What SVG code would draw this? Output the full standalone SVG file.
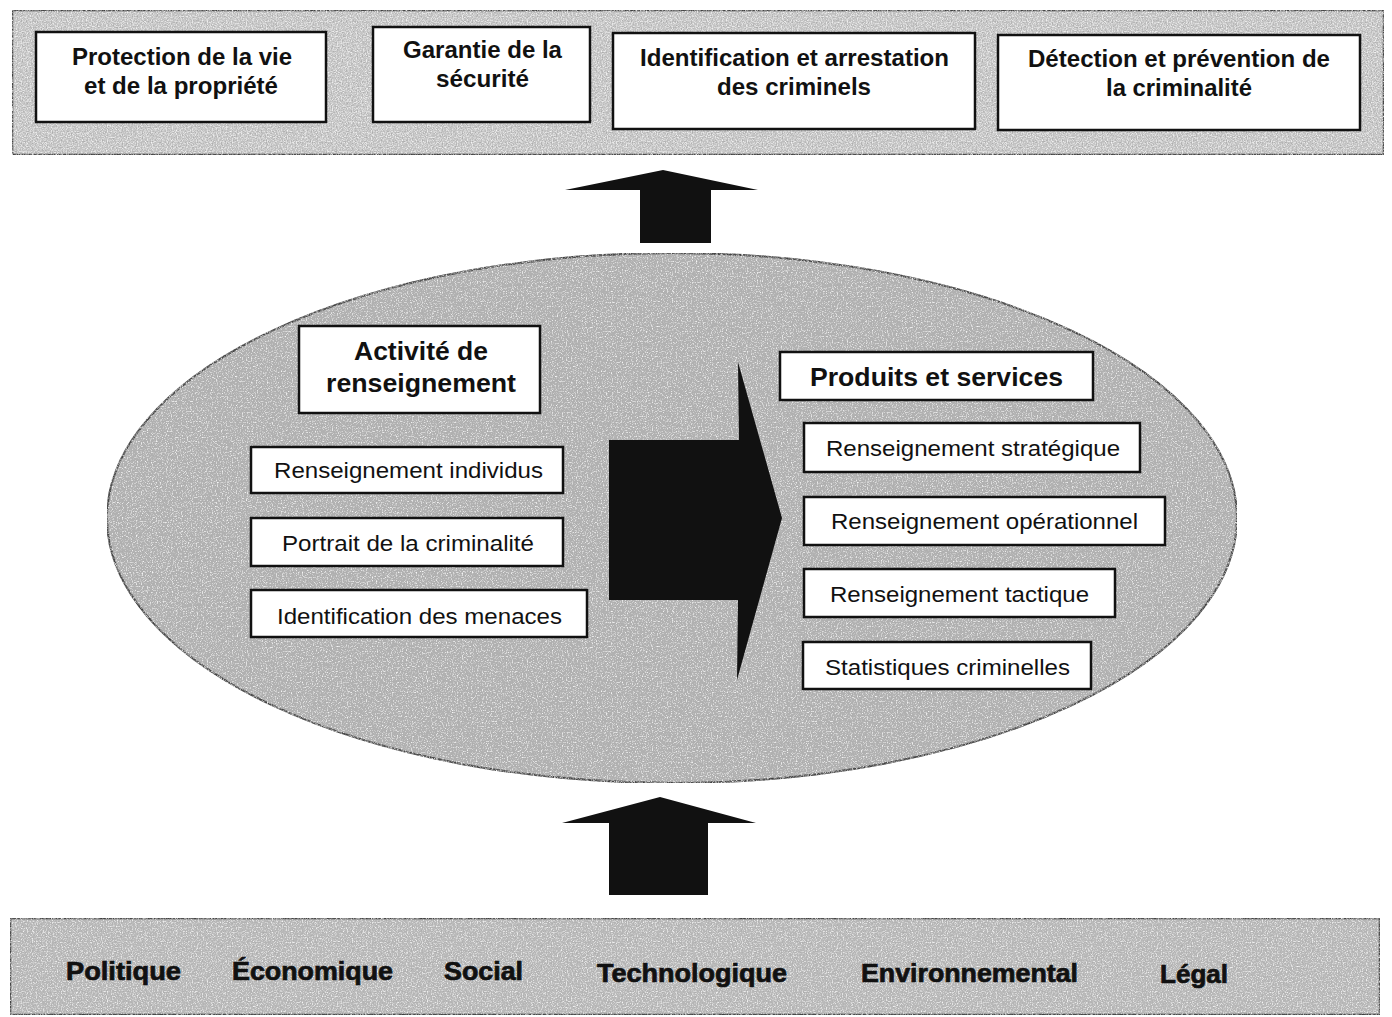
<svg xmlns="http://www.w3.org/2000/svg" width="1392" height="1017" viewBox="0 0 1392 1017">
  <style>
    .band { stroke: #1a1a1a; stroke-width: 2.5; }
    .box { fill: #ffffff; stroke: #111111; stroke-width: 2.5; }
    .t { font-family: "Liberation Sans", Arial, sans-serif; fill: #111111; text-anchor: start; }
    .b { font-weight: bold; }
    .top { font-size: 23px; }
    .head { font-size: 25px; }
    .item { font-size: 22px; }
    .env { font-size: 25px; stroke: #111111; stroke-width: 0.7; }
    .arrow { fill: #111111; }
  </style>
  <defs>
    <!-- speckled print grain used on the grey bands and the ellipse -->
    <filter id="grain" x="0" y="0" width="100%" height="100%">
      <feTurbulence type="fractalNoise" baseFrequency="0.8" numOctaves="2" seed="4" result="noise"/>
      <feColorMatrix in="noise" type="matrix" values="0 0 0 0 0.42  0 0 0 0 0.42  0 0 0 0 0.42  3 0 0 0 -1.35" result="dark"/>
      <feColorMatrix in="noise" type="matrix" values="0 0 0 0 0.92  0 0 0 0 0.92  0 0 0 0 0.92  -3 0 0 0 1.45" result="light"/>
      <feComposite in="dark" in2="SourceGraphic" operator="in" result="darkIn"/>
      <feComposite in="light" in2="SourceGraphic" operator="in" result="lightIn"/>
      <feMerge>
        <feMergeNode in="SourceGraphic"/>
        <feMergeNode in="lightIn"/>
        <feMergeNode in="darkIn"/>
      </feMerge>
    </filter>
  </defs>

  <rect width="1392" height="1017" fill="#ffffff"/>

  <!-- top band: missions -->
  <g id="missions">
    <rect class="band" x="12" y="10" width="1372" height="145" fill="#cdcdcd" filter="url(#grain)"/>
  </g>
  <g id="protection">
    <rect class="box" x="36" y="32" width="290" height="90"/>
    <text class="t b top" x="72" y="65" textLength="220" lengthAdjust="spacingAndGlyphs">Protection de la vie</text>
    <text class="t b top" x="84" y="94" textLength="194" lengthAdjust="spacingAndGlyphs">et de la propriété</text>
  </g>
  <g id="securite">
    <rect class="box" x="373" y="27" width="217" height="95"/>
    <text class="t b top" x="403" y="58" textLength="159" lengthAdjust="spacingAndGlyphs">Garantie de la</text>
    <text class="t b top" x="436" y="87" textLength="93" lengthAdjust="spacingAndGlyphs">sécurité</text>
  </g>
  <g id="arrestation">
    <rect class="box" x="613" y="33" width="362" height="96"/>
    <text class="t b top" x="640" y="66" textLength="309" lengthAdjust="spacingAndGlyphs">Identification et arrestation</text>
    <text class="t b top" x="717" y="95" textLength="154" lengthAdjust="spacingAndGlyphs">des criminels</text>
  </g>
  <g id="prevention">
    <rect class="box" x="998" y="35" width="362" height="95"/>
    <text class="t b top" x="1028" y="67" textLength="302" lengthAdjust="spacingAndGlyphs">Détection et prévention de</text>
    <text class="t b top" x="1106" y="96" textLength="146" lengthAdjust="spacingAndGlyphs">la criminalité</text>
  </g>

  <!-- central ellipse -->
  <g id="renseignement">
    <ellipse cx="672" cy="518" rx="565" ry="265" fill="#b2b2b2" stroke="#1a1a1a" stroke-width="2" filter="url(#grain)"/>
  </g>

  <!-- block arrows -->
  <g id="connectors">
    <path class="arrow" d="M640,243 L640,190 L565,190 L663,170 L758,190 L711,190 L711,243 Z"/>
    <path class="arrow" d="M609,600 L609,440 L739,440 L738,362 L782,518 L737,680 L738,600 Z"/>
    <path class="arrow" d="M609,895 L609,823 L562,823 L660,797 L756,823 L708,823 L708,895 Z"/>
  </g>

  <g id="activite">
    <rect class="box" x="299" y="326" width="241" height="87"/>
    <text class="t b head" x="354" y="360" textLength="134" lengthAdjust="spacingAndGlyphs">Activité de</text>
    <text class="t b head" x="326" y="392" textLength="190" lengthAdjust="spacingAndGlyphs">renseignement</text>
  </g>
  <g id="individus">
    <rect class="box" x="251" y="447" width="312" height="46"/>
    <text class="t item" x="274" y="478" textLength="269" lengthAdjust="spacingAndGlyphs">Renseignement individus</text>
  </g>
  <g id="portrait">
    <rect class="box" x="251" y="518" width="312" height="48"/>
    <text class="t item" x="282" y="551" textLength="252" lengthAdjust="spacingAndGlyphs">Portrait de la criminalité</text>
  </g>
  <g id="menaces">
    <rect class="box" x="251" y="590" width="336" height="47"/>
    <text class="t item" x="277" y="624" textLength="285" lengthAdjust="spacingAndGlyphs">Identification des menaces</text>
  </g>

  <g id="produits">
    <rect class="box" x="780" y="352" width="313" height="48"/>
    <text class="t b head" x="810" y="386" textLength="253" lengthAdjust="spacingAndGlyphs">Produits et services</text>
  </g>
  <g id="strategique">
    <rect class="box" x="804" y="423" width="336" height="49"/>
    <text class="t item" x="826" y="456" textLength="294" lengthAdjust="spacingAndGlyphs">Renseignement stratégique</text>
  </g>
  <g id="operationnel">
    <rect class="box" x="804" y="497" width="361" height="48"/>
    <text class="t item" x="831" y="529" textLength="307" lengthAdjust="spacingAndGlyphs">Renseignement opérationnel</text>
  </g>
  <g id="tactique">
    <rect class="box" x="804" y="569" width="311" height="48"/>
    <text class="t item" x="830" y="602" textLength="259" lengthAdjust="spacingAndGlyphs">Renseignement tactique</text>
  </g>
  <g id="statistiques">
    <rect class="box" x="803" y="642" width="288" height="47"/>
    <text class="t item" x="825" y="675" textLength="245" lengthAdjust="spacingAndGlyphs">Statistiques criminelles</text>
  </g>

  <!-- bottom band: environment factors -->
  <g id="environnement">
    <rect class="band" x="10" y="918" width="1370" height="97" fill="#bdbdbd" filter="url(#grain)"/>
    <text class="t b env" x="66" y="980" textLength="115" lengthAdjust="spacingAndGlyphs">Politique</text>
    <text class="t b env" x="232" y="980" textLength="161" lengthAdjust="spacingAndGlyphs">Économique</text>
    <text class="t b env" x="444" y="980" textLength="79" lengthAdjust="spacingAndGlyphs">Social</text>
    <text class="t b env" x="597" y="982" textLength="190" lengthAdjust="spacingAndGlyphs">Technologique</text>
    <text class="t b env" x="861" y="982" textLength="217" lengthAdjust="spacingAndGlyphs">Environnemental</text>
    <text class="t b env" x="1160" y="983" textLength="68" lengthAdjust="spacingAndGlyphs">Légal</text>
  </g>
</svg>
